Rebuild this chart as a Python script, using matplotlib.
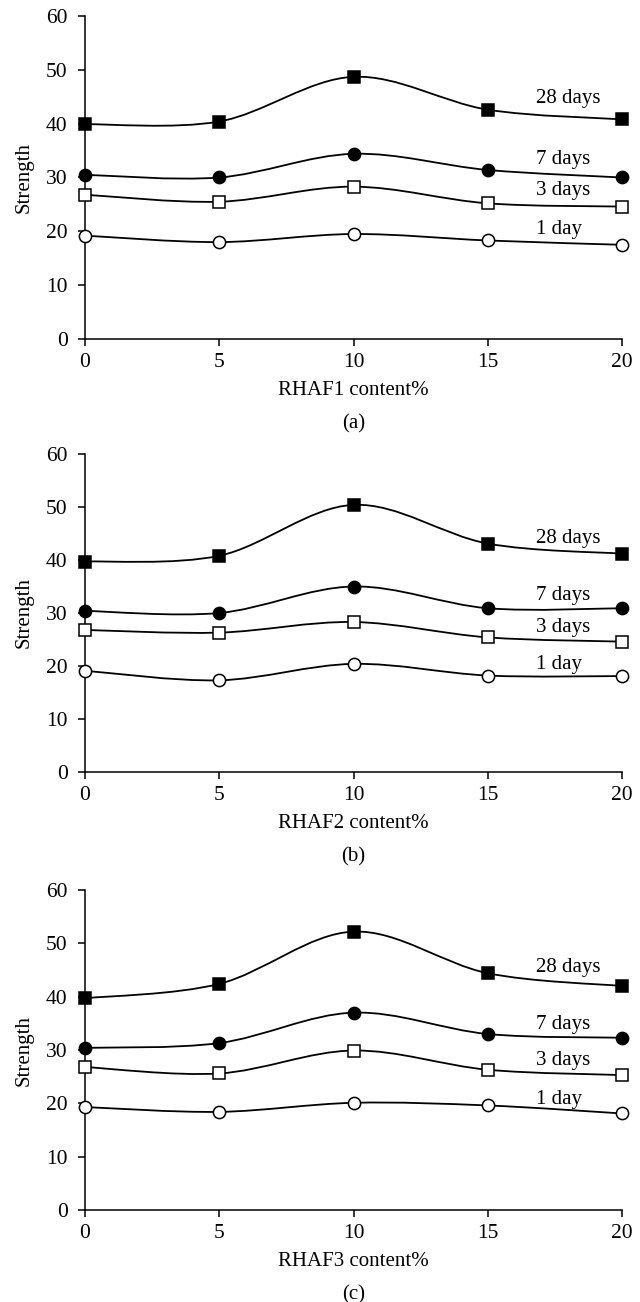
import matplotlib
matplotlib.use("Agg")
import matplotlib.pyplot as plt
from matplotlib.path import Path
from matplotlib.patches import PathPatch

plt.rcParams['font.family'] = ['Liberation Serif', 'DejaVu Serif']

# RHAF content (%)
content = [0, 5, 10, 15, 20]

# strength values per panel
a_1day = [19.2, 18.0, 19.5, 18.3, 17.5]
a_3days = [26.8, 25.5, 28.3, 25.2, 24.6]
a_7days = [30.5, 30.0, 34.4, 31.4, 30.0]
a_28days = [39.9, 40.4, 48.7, 42.6, 40.8]

b_1day = [19.1, 17.3, 20.4, 18.2, 18.1]
b_3days = [26.8, 26.3, 28.3, 25.4, 24.6]
b_7days = [30.4, 30.0, 35.0, 30.9, 30.9]
b_28days = [39.7, 40.8, 50.4, 43.1, 41.2]

c_1day = [19.3, 18.4, 20.1, 19.6, 18.1]
c_3days = [26.8, 25.6, 29.9, 26.3, 25.3]
c_7days = [30.4, 31.3, 37.0, 33.0, 32.3]
c_28days = [39.7, 42.4, 52.2, 44.4, 42.0]

xlabels = ["RHAF1 content%", "RHAF2 content%", "RHAF3 content%"]
panel_tags = ["(a)", "(b)", "(c)"]
series_names = ["1 day", "3 days", "7 days", "28 days"]

# height of the series names in each panel (data units)
label_y = [[20.3, 27.6, 33.3, 44.6],
           [20.2, 27.3, 33.3, 44.0],
           [20.8, 28.0, 34.8, 45.4]]

panels = [[a_1day, a_3days, a_7days, a_28days],
          [b_1day, b_3days, b_7days, b_28days],
          [c_1day, c_3days, c_7days, c_28days]]


# Smoothed line like the spreadsheet "smooth line" option (bezier through the points)
def smooth_path(xs, ys):
    pts = list(zip(xs, ys))
    n = len(pts)
    verts = [pts[0]]
    codes = [Path.MOVETO]
    for i in range(n - 1):
        p0 = pts[i - 1] if i > 0 else pts[i]
        p1 = pts[i]
        p2 = pts[i + 1]
        p3 = pts[i + 2] if i + 2 < n else pts[i + 1]
        c1 = (p1[0] + (p2[0] - p0[0]) / 6, p1[1] + (p2[1] - p0[1]) / 6)
        c2 = (p2[0] - (p3[0] - p1[0]) / 6, p2[1] - (p3[1] - p1[1]) / 6)
        verts += [c1, c2, p2]
        codes += [Path.CURVE4] * 3
    return Path(verts, codes)


markers = [("o", "white"), ("s", "white"), ("o", "black"), ("s", "black")]

fig = plt.figure(figsize=(6.4, 13.02), dpi=100)

# axes boxes in pixels: left, top, right, bottom
boxes_px = [[85, 16, 622, 339],
            [85, 454, 622, 772],
            [85, 890, 622, 1210]]

for p, series in enumerate(panels):
    l, t, r, b = boxes_px[p]
    ax = fig.add_axes([l / 640, 1 - b / 1302, (r - l) / 640, (b - t) / 1302])
    h = b - t
    for s, vals in enumerate(series):
        ax.add_patch(PathPatch(smooth_path(content, vals), facecolor="none",
                               edgecolor="black", lw=1.3, zorder=2))
        m, fc = markers[s]
        ax.plot(content, vals, linestyle="none", marker=m,
                markersize=8.6 if m == "s" else 8.8, markerfacecolor=fc,
                markeredgecolor="black", markeredgewidth=1.1, zorder=3,
                clip_on=False)
        ax.text(16.8, label_y[p][s], series_names[s], fontsize=15,
                ha="left", va="center")

    ax.set_xlim(0, 20)
    ax.set_ylim(0, 60)
    ax.set_xticks(content)
    ax.set_yticks(range(0, 61, 10))
    for side in ["top", "right"]:
        ax.spines[side].set_visible(False)
    for side in ["left", "bottom"]:
        ax.spines[side].set_linewidth(1.1)
    ax.tick_params(axis="both", direction="out", length=5, width=1.1,
                   labelsize=15.5)
    ax.tick_params(axis="y", pad=7.5)
    ax.tick_params(axis="x", pad=5)
    ax.set_ylabel("Strength", fontsize=15, va="center")
    ax.yaxis.set_label_coords(-61 / 537, 0.5)
    ax.set_xlabel(xlabels[p], fontsize=15, va="center")
    ax.xaxis.set_label_coords(0.5, -52 / h)
    ax.text(0.5, -85 / h, panel_tags[p], transform=ax.transAxes,
            fontsize=15, ha="center", va="center")

fig.savefig("out.png", dpi=100)
